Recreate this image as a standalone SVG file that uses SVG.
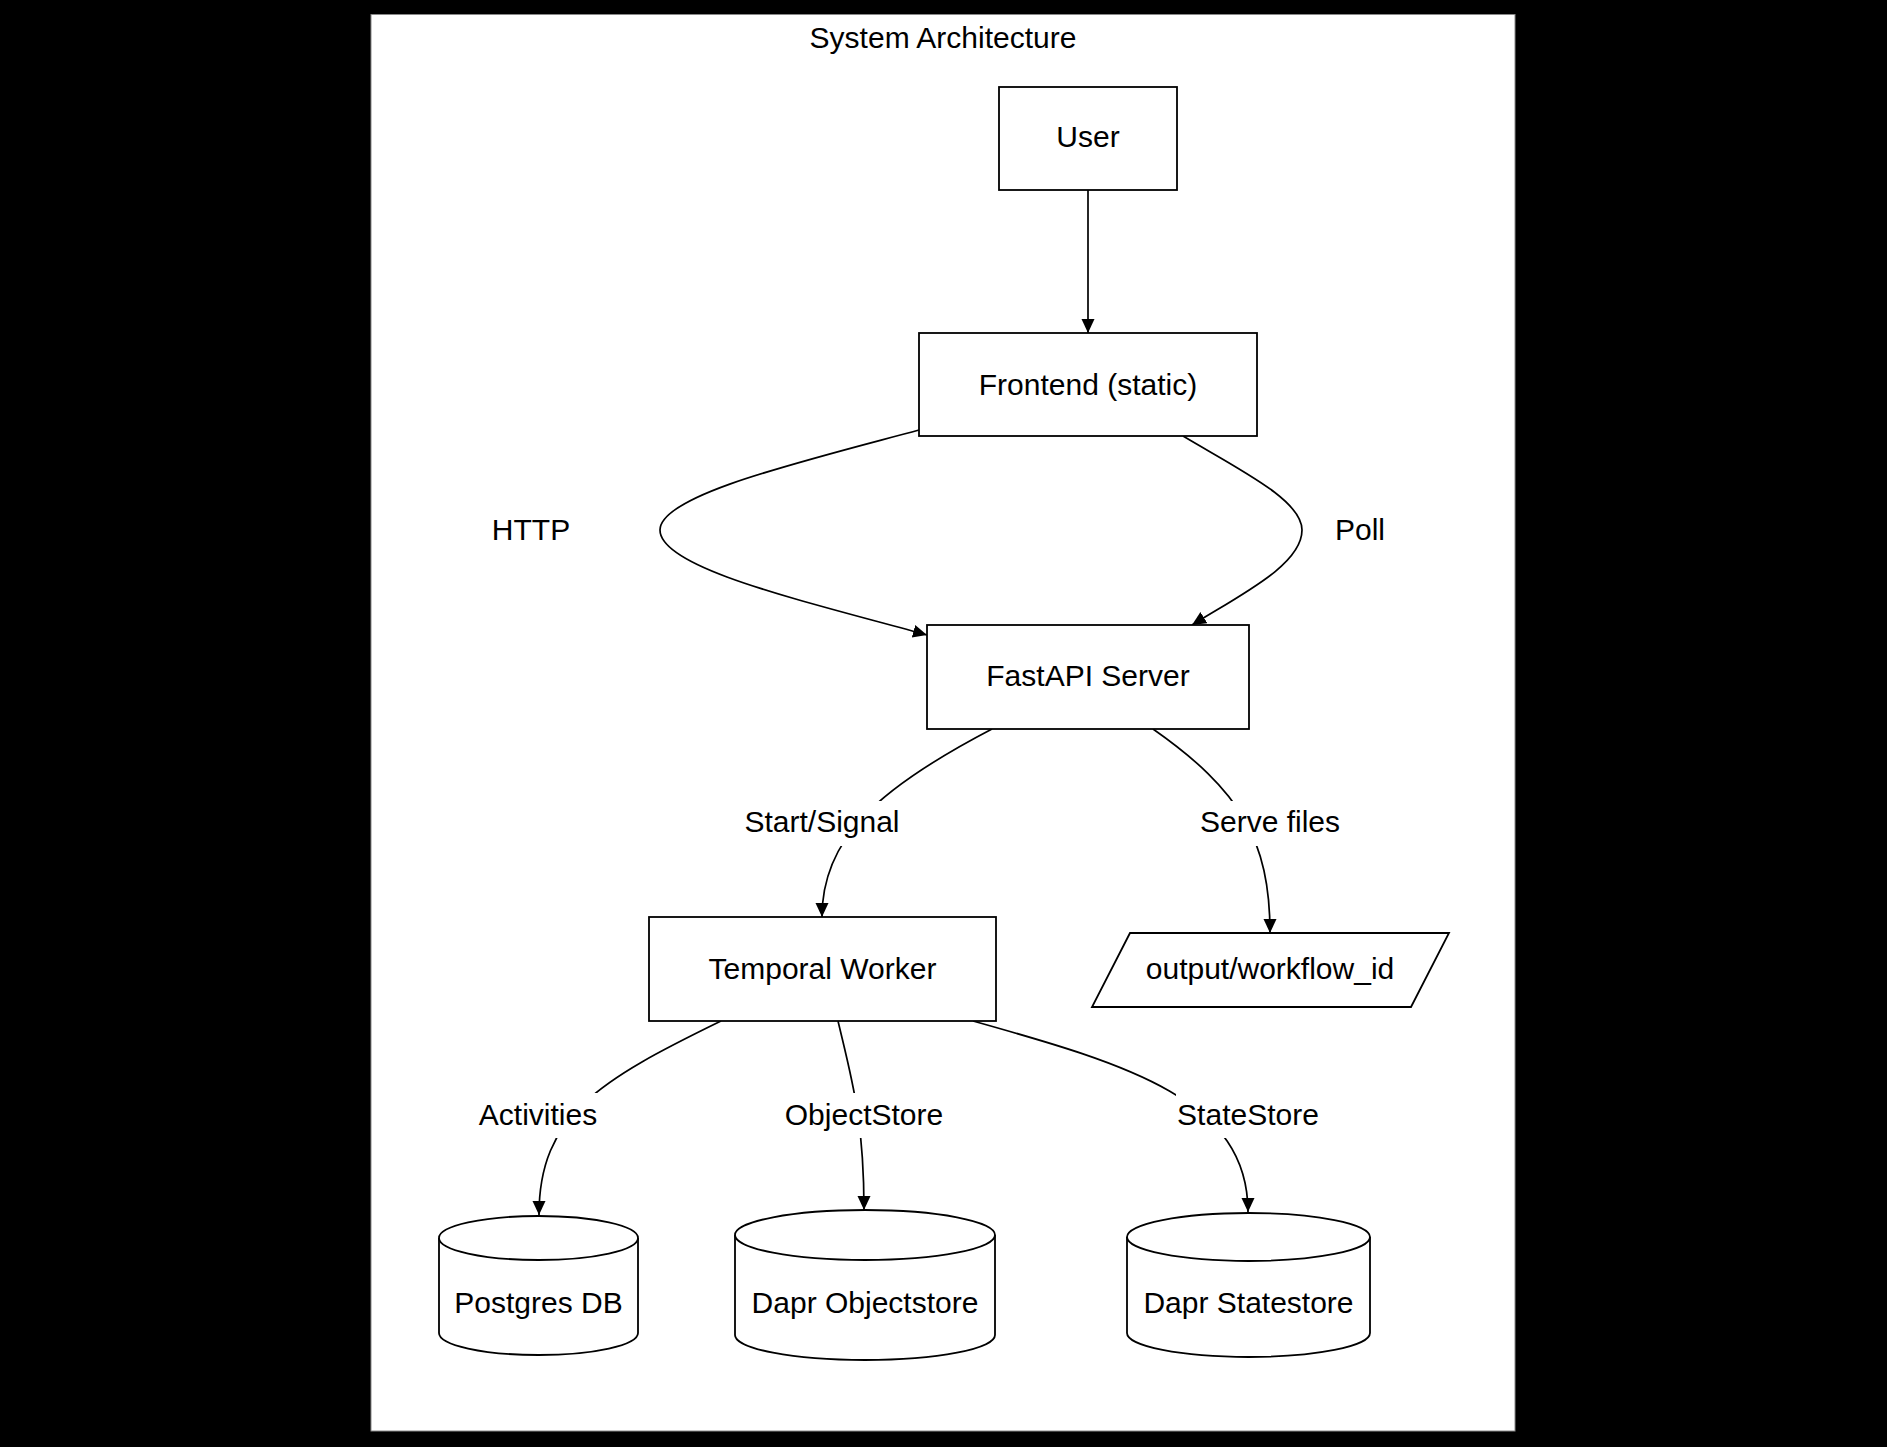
<svg xmlns="http://www.w3.org/2000/svg" width="1887" height="1447" viewBox="0 0 1887 1447">
<defs>
<style>
.node{fill:#fff;stroke:#000;stroke-width:1.8}
.edge{fill:none;stroke:#000;stroke-width:1.7}
.t{font-family:"Liberation Sans",Arial,sans-serif;font-size:30px;fill:#000;text-anchor:middle}
.lb{fill:#fff;stroke:none}
</style>
<marker id="arr" markerUnits="userSpaceOnUse" markerWidth="15" markerHeight="14" refX="14" refY="6.5" orient="auto">
<path d="M0,0 L14,6.5 L0,13 z" fill="#000"/>
</marker>
</defs>
<rect x="0" y="0" width="1887" height="1447" fill="#000"/>
<rect x="371" y="14.5" width="1144" height="1416.5" fill="#fff" stroke="#888" stroke-width="1"/>
<text class="t" x="943" y="47.5">System Architecture</text>

<g id="connectors">
<path class="edge" d="M1088,190 L1088,333" marker-end="url(#arr)"/>
<path class="edge" d="M919,430 C800,462 660,495 660,530 C660,568 800,600 927,635" marker-end="url(#arr)"/>
<path class="edge" d="M1183,436 C1240,470 1302,500 1302,530 C1302,565 1240,595 1192,625" marker-end="url(#arr)"/>
<path class="edge" d="M992,729 C875,790 822,840 822,917" marker-end="url(#arr)"/>
<path class="edge" d="M1153,729 C1240,790 1270,840 1270,933" marker-end="url(#arr)"/>
<path class="edge" d="M721,1021 C600,1080 539,1115 539,1215" marker-end="url(#arr)"/>
<path class="edge" d="M838,1021 C852,1080 864,1120 864,1210" marker-end="url(#arr)"/>
<path class="edge" d="M973,1021 C1130,1065 1248,1100 1248,1212" marker-end="url(#arr)"/>
<rect class="lb" x="742" y="801" width="160" height="45"/>
<text class="t" x="822" y="832">Start/Signal</text>
<rect class="lb" x="1198" y="801" width="144" height="45"/>
<text class="t" x="1270" y="832">Serve files</text>
<rect class="lb" x="477" y="1093" width="122" height="45"/>
<text class="t" x="538" y="1125">Activities</text>
<rect class="lb" x="783" y="1093" width="162" height="45"/>
<text class="t" x="864" y="1125">ObjectStore</text>
<rect class="lb" x="1176" y="1093" width="146" height="45"/>
<text class="t" x="1248" y="1125">StateStore</text>
<text class="t" x="531" y="540">HTTP</text>
<text class="t" x="1360" y="540">Poll</text>
</g>

<g id="user">
<rect class="node" x="999" y="87" width="178" height="103"/>
<text class="t" x="1088" y="147">User</text>
</g>
<g id="frontend">
<rect class="node" x="919" y="333" width="338" height="103"/>
<text class="t" x="1088" y="395">Frontend (static)</text>
</g>
<g id="fastapi">
<rect class="node" x="927" y="625" width="322" height="104"/>
<text class="t" x="1088" y="686">FastAPI Server</text>
</g>
<g id="worker">
<rect class="node" x="649" y="917" width="347" height="104"/>
<text class="t" x="822.5" y="979">Temporal Worker</text>
</g>
<g id="output">
<polygon class="node" points="1130,933 1449,933 1411,1007 1092,1007"/>
<text class="t" x="1270" y="979">output/workflow_id</text>
</g>
<g id="postgres">
<path class="node" d="M439,1238 A99.5,22 0 0 1 638,1238 L638,1333 A99.5,22 0 0 1 439,1333 Z"/>
<path class="node" d="M439,1238 A99.5,22 0 0 0 638,1238" fill="none"/>
<text class="t" x="538.5" y="1313">Postgres DB</text>
</g>
<g id="objectstore">
<path class="node" d="M735,1235 A130,25 0 0 1 995,1235 L995,1335 A130,25 0 0 1 735,1335 Z"/>
<path class="node" d="M735,1235 A130,25 0 0 0 995,1235" fill="none"/>
<text class="t" x="865" y="1313">Dapr Objectstore</text>
</g>
<g id="statestore">
<path class="node" d="M1127,1237 A121.5,24 0 0 1 1370,1237 L1370,1333 A121.5,24 0 0 1 1127,1333 Z"/>
<path class="node" d="M1127,1237 A121.5,24 0 0 0 1370,1237" fill="none"/>
<text class="t" x="1248.5" y="1313">Dapr Statestore</text>
</g>
</svg>
